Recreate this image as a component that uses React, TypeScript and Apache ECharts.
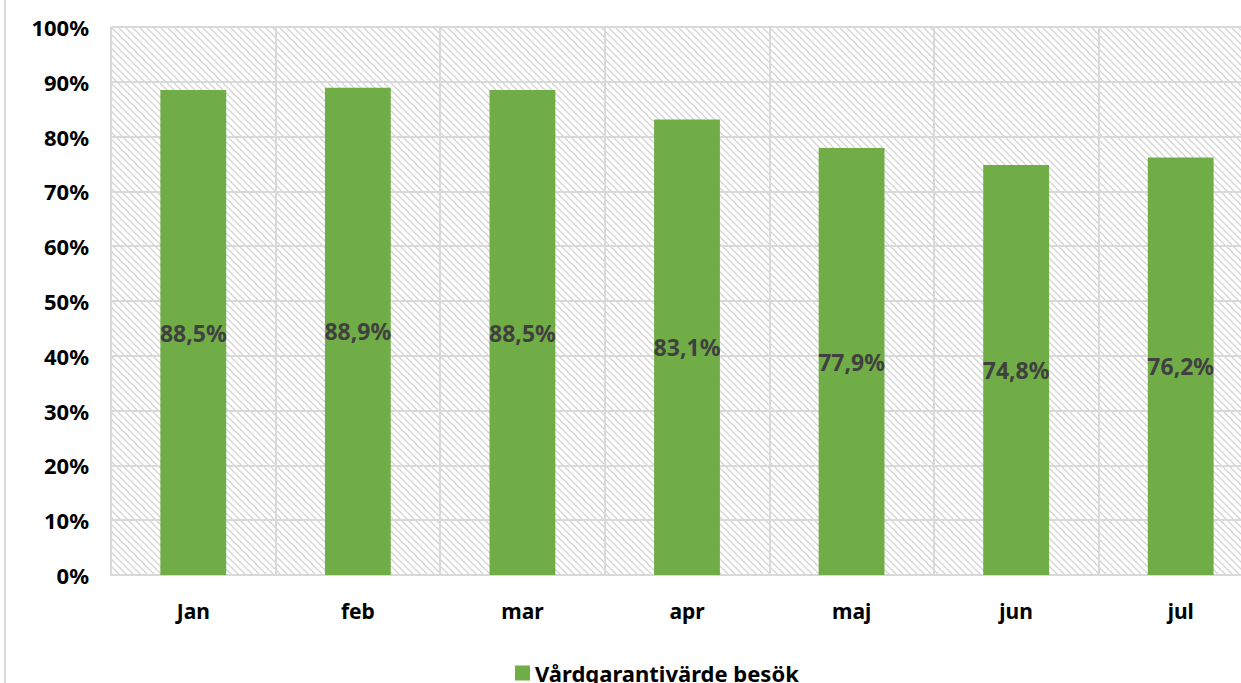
import React, { useEffect, useRef } from "react";
import * as echarts from "echarts";

const categories = ["Jan", "feb", "mar", "apr", "maj", "jun", "jul"];
const values = [88.5, 88.9, 88.5, 83.1, 77.9, 74.8, 76.2];
const seriesName = "Vårdgarantivärde besök";

function makeHatch(): string {
  const c = document.createElement("canvas");
  const s = 7;
  c.width = s;
  c.height = s;
  const ctx = c.getContext("2d");
  if (ctx) {
    ctx.fillStyle = "#ffffff";
    ctx.fillRect(0, 0, s, s);
    ctx.strokeStyle = "#d4d4d4";
    ctx.lineWidth = 1.3;
    ctx.beginPath();
    ctx.moveTo(-1, -1);
    ctx.lineTo(s + 1, s + 1);
    ctx.moveTo(-1, s - 1);
    ctx.lineTo(1, s + 1);
    ctx.moveTo(s - 1, -1);
    ctx.lineTo(s + 1, 1);
    ctx.stroke();
  }
  return c.toDataURL();
}

export default function App() {
  const ref = useRef<HTMLDivElement>(null);
  useEffect(() => {
    if (!ref.current) return;
    const chart = echarts.init(ref.current, undefined, { renderer: "svg" });
    const font = "'Noto Sans', 'DejaVu Sans', sans-serif";
    chart.setOption({
      animation: false,
      textStyle: { fontFamily: font },
      grid: {
        left: 111,
        width: 1152,
        top: 27,
        bottom: 108,
        show: true,
        borderWidth: 0,
        outerBoundsMode: "none",
        containLabel: false,
        backgroundColor: { image: makeHatch(), repeat: "repeat" },
      },
      xAxis: {
        type: "category",
        data: categories,
        axisLine: { show: true, lineStyle: { color: "#d9d9d9", width: 2 } },
        axisTick: { show: false },
        axisLabel: { color: "#000", fontWeight: "bold", fontSize: 21, margin: 25, fontFamily: font },
        splitLine: { show: true, lineStyle: { color: "#d9d9d9", width: 2 } },
      },
      yAxis: {
        type: "value",
        min: 0,
        max: 100,
        interval: 10,
        axisLine: { show: false },
        axisTick: { show: false },
        axisLabel: {
          color: "#000",
          fontWeight: "bold",
          fontSize: 22,
          margin: 22,
          formatter: "{value}%",
          fontFamily: font,
        },
        splitLine: { show: true, lineStyle: { color: "#d9d9d9", width: 2 } },
      },
      legend: {
        bottom: -6,
        left: 510,
        itemWidth: 15,
        itemHeight: 15,
        itemGap: 6,
        icon: "rect",
        textStyle: { color: "#000", fontWeight: "bold", fontSize: 22, fontFamily: font },
        data: [seriesName],
      },
      graphic: [
        {
          type: "line",
          shape: { x1: 5, y1: 0, x2: 5, y2: 683 },
          style: { stroke: "#d9d9d9", lineWidth: 2 },
        },
      ],
      series: [
        {
          name: seriesName,
          type: "bar",
          data: values,
          barWidth: "40%",
          itemStyle: { color: "#70AD47" },
          label: {
            show: true,
            position: "inside",
            color: "#404040",
            fontWeight: "bold",
            fontSize: 23,
            fontFamily: font,
            formatter: (p: any) => p.value.toFixed(1).replace(".", ",") + "%",
          },
        },
      ],
    });
    return () => chart.dispose();
  }, []);
  return (
    <div
      ref={ref}
      style={{ position: "fixed", left: 0, top: 0, width: 1241, height: 683, background: "#fff" }}
    />
  );
}
